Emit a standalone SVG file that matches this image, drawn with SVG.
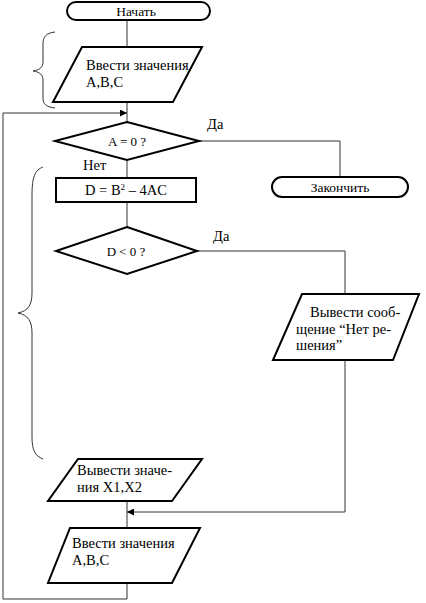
<svg xmlns="http://www.w3.org/2000/svg" width="426" height="603" viewBox="0 0 426 603">
<defs>
<marker id="arr" viewBox="0 0 10 10" refX="10" refY="5" markerWidth="9" markerHeight="7" markerUnits="userSpaceOnUse" orient="auto">
<path d="M0,0 L10,5 L0,10 z" fill="#000"/>
</marker>
<style>
.sh{fill:#fff;stroke:#000;stroke-width:2}
.ln{fill:none;stroke:#333;stroke-width:1}
.br{fill:none;stroke:#333;stroke-width:1}
.f{font-family:"Liberation Serif","Times New Roman",serif}
.t{font-size:14.5px}
.s{font-size:13px}
.m{font-size:13.5px}
</style>
</defs>
<rect width="426" height="603" fill="#fff"/>
<g id="connectors">
<path class="ln" d="M127,20 V47"/>
<path class="ln" d="M127,102 V122"/>
<path class="ln" d="M3,113 H127" marker-end="url(#arr)"/>
<path class="ln" d="M199,141 H340 V177"/>
<path class="ln" d="M127,160 V178"/>
<path class="ln" d="M127,202 V227"/>
<path class="ln" d="M197,251 H345 V294"/>
<path class="ln" d="M345,360 V512 H127" marker-end="url(#arr)"/>
<path class="ln" d="M127,501 V528"/>
<path class="ln" d="M127,583 V599 H3 V113"/>
</g>
<g id="brace1"><path class="br" d="M55,32 C46,33 43,37 43,44 V62 C43,67 40,70 33,71 C40,72 43,75 43,80 V98 C43,104 46,107 55,108"/></g>
<g id="brace2"><path class="br" d="M43,167 C35,170 32,177 32,195 V293 C32,305 28,311 18,313 C28,315 32,321 32,333 V437 C32,450 35,456 43,459"/></g>
<g class="f" fill="#000">
<g id="start">
<rect class="sh" x="67" y="2" width="143" height="18" rx="9" ry="9"/>
<text class="m" x="136" y="15.5" text-anchor="middle">Начать</text>
</g>
<g id="input1">
<polygon class="sh" points="82,47 202,47 173,102 53,102"/>
<text class="t" x="86" y="70">Ввести значения</text>
<text class="t" x="86" y="87">A,B,C</text>
</g>
<g id="cond1">
<polygon class="sh" points="127,122 199,141 127,160 55,141"/>
<text class="s" x="127" y="145.5" text-anchor="middle">A = 0 ?</text>
<text class="t" x="207" y="129">Да</text>
<text class="t" x="83" y="170">Нет</text>
</g>
<g id="end">
<rect class="sh" x="272" y="177" width="136" height="20" rx="10" ry="10"/>
<text class="m" x="340" y="191.5" text-anchor="middle">Закончить</text>
</g>
<g id="calc">
<rect class="sh" x="56" y="178" width="140" height="24"/>
<text class="t" x="126" y="194.5" text-anchor="middle">D = B<tspan font-size="9" dy="-5">2</tspan><tspan dy="5"> – 4AC</tspan></text>
</g>
<g id="cond2">
<polygon class="sh" points="127,227 197,251 127,274 56,251"/>
<text class="s" x="126" y="255.5" text-anchor="middle">D &lt; 0 ?</text>
<text class="t" x="213" y="241">Да</text>
</g>
<g id="msg">
<polygon class="sh" points="302,294 419,294 393,360 273,360"/>
<text class="t" x="310" y="317">Вывести сооб-</text>
<text class="t" x="296" y="334">щение “Нет ре-</text>
<text class="t" x="296" y="350">шения”</text>
</g>
<g id="output">
<polygon class="sh" points="78,459 202,459 172,501 48,501"/>
<text class="t" x="77" y="475">Вывести значе-</text>
<text class="t" x="77" y="492">ния X1,X2</text>
</g>
<g id="input2">
<polygon class="sh" points="70,528 200,528 172,583 48,583"/>
<text class="t" x="72" y="548">Ввести значения</text>
<text class="t" x="72" y="565">A,B,C</text>
</g>
</g>
</svg>
